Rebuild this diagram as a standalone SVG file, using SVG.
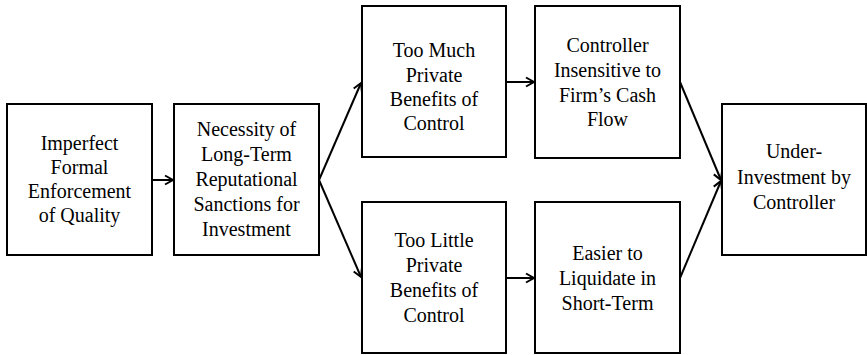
<svg xmlns="http://www.w3.org/2000/svg" width="867" height="355" viewBox="0 0 867 355">
<style>
.box{fill:#fff;stroke:#000;stroke-width:2}
.t{font-family:"Liberation Serif","Times New Roman",Times,serif;font-size:20px;fill:#000;text-anchor:middle}
.c{stroke:#000;stroke-width:2;fill:none;marker-end:url(#ah)}
</style>
<defs>
<marker id="ah" markerUnits="userSpaceOnUse" markerWidth="12" markerHeight="12" refX="9" refY="5" orient="auto" viewBox="0 0 12 10">
<path d="M1,0.5 L9,5 L1,9.5" fill="none" stroke="#000" stroke-width="2"/>
</marker>
</defs>
<rect width="867" height="355" fill="#fff"/>
<g id="connectors">
<line class="c" x1="152" y1="180" x2="173" y2="180"/>
<line class="c" x1="319" y1="180" x2="361" y2="83"/>
<line class="c" x1="319" y1="180" x2="361" y2="277"/>
<line class="c" x1="506" y1="82" x2="534" y2="82"/>
<line class="c" x1="506" y1="278" x2="534" y2="278"/>
<line class="c" x1="680" y1="82" x2="721" y2="180"/>
<line class="c" x1="680" y1="278" x2="721" y2="181"/>
</g>
<g id="n1">
<rect class="box" x="7" y="104" width="145" height="151"/>
<text class="t" x="79.5" y="150">Imperfect</text>
<text class="t" x="79.5" y="174">Formal</text>
<text class="t" x="79.5" y="198">Enforcement</text>
<text class="t" x="79.5" y="222">of Quality</text>
</g>
<g id="n2">
<rect class="box" x="174" y="104" width="145" height="151"/>
<text class="t" x="246.5" y="136">Necessity of</text>
<text class="t" x="246.5" y="161">Long-Term</text>
<text class="t" x="246.5" y="186">Reputational</text>
<text class="t" x="246.5" y="211">Sanctions for</text>
<text class="t" x="246.5" y="236">Investment</text>
</g>
<g id="n3">
<rect class="box" x="362" y="6" width="144" height="151"/>
<text class="t" x="434" y="57">Too Much</text>
<text class="t" x="434" y="82">Private</text>
<text class="t" x="434" y="106">Benefits of</text>
<text class="t" x="434" y="130">Control</text>
</g>
<g id="n4">
<rect class="box" x="535" y="6" width="145" height="152"/>
<text class="t" x="607.5" y="52">Controller</text>
<text class="t" x="607.5" y="77">Insensitive to</text>
<text class="t" x="607.5" y="102">Firm’s Cash</text>
<text class="t" x="607.5" y="126">Flow</text>
</g>
<g id="n5">
<rect class="box" x="362" y="202" width="144" height="151"/>
<text class="t" x="434" y="247">Too Little</text>
<text class="t" x="434" y="272">Private</text>
<text class="t" x="434" y="297">Benefits of</text>
<text class="t" x="434" y="322">Control</text>
</g>
<g id="n6">
<rect class="box" x="535" y="202" width="145" height="151"/>
<text class="t" x="607.5" y="260">Easier to</text>
<text class="t" x="607.5" y="285">Liquidate in</text>
<text class="t" x="607.5" y="310">Short-Term</text>
</g>
<g id="n7">
<rect class="box" x="722" y="104" width="144" height="151"/>
<text class="t" x="794" y="158">Under-</text>
<text class="t" x="794" y="184">Investment by</text>
<text class="t" x="794" y="209">Controller</text>
</g>
</svg>
